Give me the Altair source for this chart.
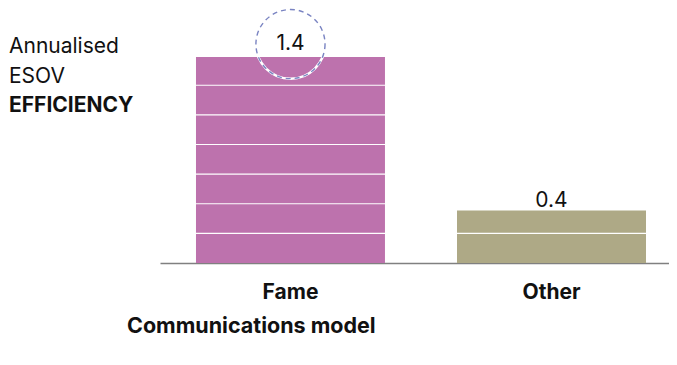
import altair as alt
import pandas as pd

categories = ["Fame", "Other"]
values = [1.39, 0.355]
colors = ["#bd72ad", "#aea986"]
grid_values = [0.2, 0.4, 0.6, 0.8, 1.0, 1.2]
side_title = ["Annualised", "ESOV", "EFFICIENCY"]
x_title = "Communications model"

df = pd.DataFrame({"cat": categories, "value": values})
FONT = "Inter"
FS = 21
H = 237
W = 509

x_enc = alt.X(
    "cat:N",
    sort=categories,
    scale=alt.Scale(paddingInner=0.276, paddingOuter=0.113, align=0.61),
    axis=alt.Axis(
        title=None, labelAngle=0, ticks=False, grid=False,
        domainColor="#808080", domainWidth=1.5,
        labelFont=FONT, labelFontSize=FS, labelFontWeight="bold",
        labelColor="#111111", labelPadding=35, labelBaseline="alphabetic",
    ),
)
y_scale = alt.Scale(domain=[0, 1.6], nice=False)
x_plain = alt.X("cat:N", sort=categories)
y_plain = alt.Y("value:Q", scale=y_scale)

base = alt.Chart(df)

bars = base.mark_bar().encode(
    x=x_enc,
    y=alt.Y("value:Q", scale=y_scale, axis=None),
    color=alt.Color("cat:N", scale=alt.Scale(domain=categories, range=colors), legend=None),
)

grid = alt.Chart(pd.DataFrame({"g": grid_values})).mark_rule(
    color="white", strokeWidth=1.2).encode(
    y=alt.Y("g:Q", scale=y_scale, axis=None))

fame = base.transform_filter(alt.datum.cat == "Fame")
other = base.transform_filter(alt.datum.cat == "Other")

circle_under = fame.mark_point(shape="circle", filled=False, size=4778,
                               stroke="white", strokeWidth=2.5, opacity=1).encode(
    x=x_plain, y=y_plain, yOffset=alt.value(-13))
circle = fame.mark_point(shape="circle", filled=False, size=4778,
                         stroke="#7a84c2", strokeWidth=1.4, strokeDash=[5, 4], opacity=1).encode(
    x=x_plain, y=y_plain, yOffset=alt.value(-13))

lab_fame = fame.mark_text(font=FONT, fontSize=FS, color="#111111",
                          baseline="alphabetic", dy=-7).encode(
    x=x_plain, y=y_plain, text=alt.Text("value:Q", format=".1f"))
lab_other = other.mark_text(font=FONT, fontSize=FS, color="#111111",
                            baseline="alphabetic", dy=-3).encode(
    x=x_plain, y=y_plain, text=alt.Text("value:Q", format=".1f"))

chart_layers = [bars, grid, circle_under, circle, lab_fame, lab_other]

for k, line in enumerate(side_title):
    chart_layers.append(
        alt.Chart(pd.DataFrame({"t": [line]})).mark_text(
            font=FONT, fontSize=FS, color="#111111", align="left", baseline="alphabetic",
            fontWeight="bold" if k == 2 else "normal").encode(
            x=alt.value(-151), y=alt.value(27 + 29.5 * k), text="t:N"))

chart_layers.append(
    alt.Chart(pd.DataFrame({"t": [x_title]})).mark_text(
        font=FONT, fontSize=FS + 0.5, color="#111111", align="left", baseline="alphabetic",
        fontWeight="bold").encode(
        x=alt.value(-33), y=alt.value(307), text="t:N"))

chart = alt.layer(*chart_layers).properties(
    width=W, height=H,
    autosize=alt.AutoSizeParams(type="none"),
    padding={"left": 152, "top": 18, "right": 0, "bottom": 90},
).configure_view(stroke=None)

chart.save("out.html", embed_options={"renderer": "svg", "actions": False})
